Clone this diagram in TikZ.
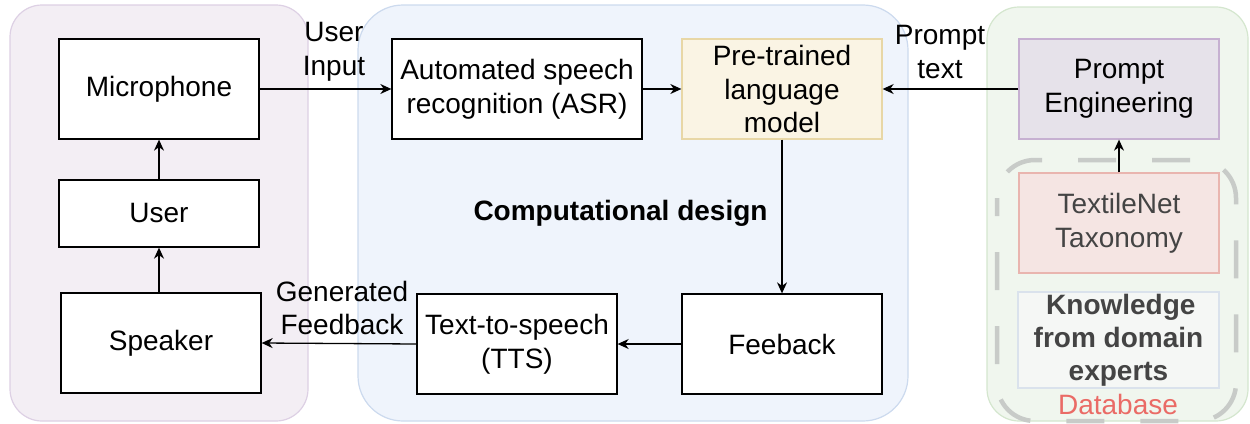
\documentclass[tikz,border=0pt]{standalone}
\usepackage{fontspec}
\setmainfont{Liberation Sans}
\usetikzlibrary{arrows.meta,positioning}
\definecolor{grpL}{HTML}{F3EEF4}
\definecolor{grpLb}{HTML}{DDD0E4}
\definecolor{grpM}{HTML}{EFF4FC}
\definecolor{grpMb}{HTML}{CCDAEE}
\definecolor{grpR}{HTML}{F0F6EE}
\definecolor{grpRb}{HTML}{D4E6CE}
\definecolor{plmF}{HTML}{FAF4E4}
\definecolor{plmB}{HTML}{E8D7A6}
\definecolor{peF}{HTML}{E6E2EA}
\definecolor{peB}{HTML}{C6B0D1}
\definecolor{tnF}{HTML}{F5E5E3}
\definecolor{tnB}{HTML}{E9B5AF}
\definecolor{knF}{HTML}{F5F7F5}
\definecolor{knB}{HTML}{DAE2EC}
\definecolor{dashG}{HTML}{C8CBC8}
\definecolor{txtG}{HTML}{444444}
\definecolor{dbR}{HTML}{EA6B66}
\begin{document}
\begin{tikzpicture}[x=1pt,y=-1pt,
  every node/.style={font=\fontsize{28}{33.6}\selectfont, align=center, inner sep=0pt},
  blk/.style={draw, line width=1.3pt, fill=white, minimum width=#1},
  blk/.default=200pt,
  grp/.style={line width=1.2pt},
  conn/.style={line width=1.3pt, -{Stealth[length=11pt,width=10pt,inset=3.5pt]}}
]
\useasboundingbox (0,0) rectangle (1250,423);
% groups
\draw[grp, rounded corners=32pt, fill=grpL, draw=grpLb] (10,5) rectangle (308,421);
\draw[grp, rounded corners=45pt, fill=grpM, draw=grpMb] (358,5) rectangle (908,421);
\draw[grp, rounded corners=32pt, fill=grpR, draw=grpRb] (987,7) rectangle (1248,421);
\draw[dashG, line width=4.5pt, dash pattern=on 38pt off 36pt, dash phase=20pt, rounded corners=38pt] (997,160) rectangle (1236,421);

% blocks
\node[blk, minimum height=100pt] (mic) at (159,89) {Microphone};
\node[blk, minimum height=67pt] (usr) at (159,213.5) {User};
\node[blk, minimum height=100pt] (spk) at (161,343) {Speaker};
\node[blk=250pt, minimum height=100pt] (asr) at (517,89) {Automated speech\\recognition (ASR)};
\node[blk, minimum height=100pt, fill=plmF, draw=plmB] (plm) at (782,89) {Pre-trained\\language\\model};
\node[blk, minimum height=100pt] (fb) at (782,344) {Feeback};
\node[blk, minimum height=100pt] (tts) at (517,344) {Text-to-speech\\(TTS)};
\node[blk, minimum height=100pt, fill=peF, draw=peB] (pe) at (1119,89) {Prompt\\Engineering};
\node[blk, minimum height=100pt, fill=tnF, draw=tnB, text=txtG, line width=1.1pt] (tn) at (1119,223) {TextileNet\\Taxonomy};
\node[blk=201pt, minimum height=96pt, fill=knF, draw=knB, text=txtG, line width=1.6pt, font=\fontsize{28}{33}\selectfont\bfseries] (kn) at (1118.5,340) {\,Knowledge\\from domain\\experts};

% labels
\node (ui) at (334,52) {User\\Input};
\node (pt) at (940,52) {Prompt\\text};
\node (gf) at (342,308) {Generated\\Feedback};
\node[font=\fontsize{28}{33.6}\selectfont\bfseries] (cd) at (620.5,213) {Computational design};
\node[text=dbR] (db) at (1118,404) {Database};

% connectors
\draw[conn] (mic.east) -- (asr.west);
\draw[conn] (asr.east) -- (plm.west);
\draw[conn] (pe.west) -- (plm.east);
\draw[conn] (plm.south) -- (fb.north);
\draw[conn] (fb.west) -- (tts.east);
\draw[conn] (tts.west) -- (spk.east);
\draw[conn] (usr.south |- spk.north) -- (usr.south);
\draw[conn] (usr.north) -- (mic.south);
\draw[conn] (tn.north) -- (pe.south);
\end{tikzpicture}
\end{document}
